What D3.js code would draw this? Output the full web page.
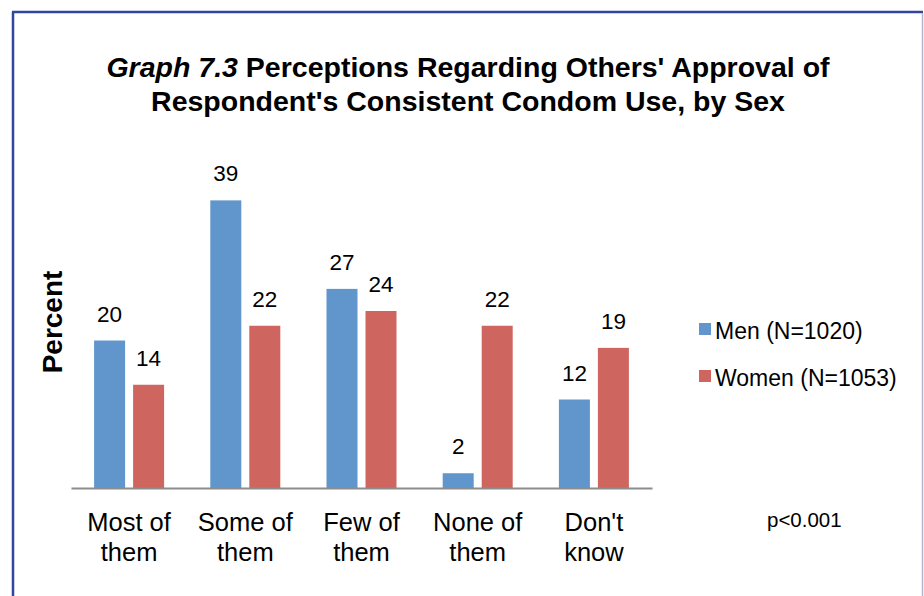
<!DOCTYPE html>
<html><head><meta charset="utf-8">
<script src="https://cdn.jsdelivr.net/npm/d3@7"></script>
<style>body{margin:0;background:#fff}svg{display:block}text{font-family:"Liberation Sans",Arial,sans-serif;fill:#000}</style>
</head><body><svg id="c" width="924" height="596"></svg>
<script>
const categories = [["Most of","them"],["Some of","them"],["Few of","them"],["None of","them"],["Don't","know"]];
const series = ["Men (N=1020)","Women (N=1053)"];
const men = [20,39,27,2,12];
const women = [14,22,24,22,19];
const colors = ["#6096CB","#CF655F"];

const svg = d3.select("#c");
// border
svg.append("line").attr("x1",13).attr("y1",12).attr("x2",13).attr("y2",600).attr("stroke","#33449c").attr("stroke-width",2.5);
svg.append("line").attr("x1",12).attr("y1",12).attr("x2",923).attr("y2",12).attr("stroke","#33449c").attr("stroke-width",2.5);
svg.append("line").attr("x1",922.5).attr("y1",13).attr("x2",922.5).attr("y2",600).attr("stroke","#b4b4cc").attr("stroke-width",1.5);

// title
const t1 = svg.append("text").attr("x",468).attr("y",77).attr("text-anchor","middle").style("font-size","28.5px").style("font-weight","bold");
t1.append("tspan").style("font-style","italic").text("Graph 7.3");
t1.append("tspan").text(" Perceptions Regarding Others' Approval of");
svg.append("text").attr("x",468).attr("y",111).attr("text-anchor","middle").style("font-size","28.5px").style("font-weight","bold").text("Respondent's Consistent Condom Use, by Sex");

const keys = categories.map(d=>d.join(" "));
const x0 = d3.scaleBand().domain(keys).range([71,652]).padding(0);
const x1 = d3.scaleBand().domain(series).range([23.1,93.1]).paddingInner(0.205).paddingOuter(0);
const y = d3.scaleLinear().domain([0,40]).range([488,193]);

const data = series.map((s,i)=>({s, vals: i===0?men:women, c: colors[i]}));
const g = svg.append("g");
data.forEach(d=>{
  d.vals.forEach((v,j)=>{
    const xx = x0(keys[j]) + x1(d.s);
    g.append("rect").attr("x",xx).attr("y",y(v)).attr("width",x1.bandwidth()).attr("height",y(0)-y(v)).attr("fill",d.c);
    g.append("text").attr("x",xx+x1.bandwidth()/2).attr("y",y(v)-19).attr("text-anchor","middle").style("font-size","22.5px").text(v);
  });
});

// x axis
const xAxis = svg.append("g").attr("transform","translate(0,488)").call(d3.axisBottom(x0).tickSize(0).tickFormat(""));
xAxis.select(".domain").attr("stroke","#8c8c8c").attr("stroke-width",2);
keys.forEach((k,j)=>{
  const cx = x0(k)+x0.bandwidth()/2;
  const tx = svg.append("text").attr("x",cx).attr("y",531).attr("text-anchor","middle").style("font-size","25.5px");
  tx.append("tspan").attr("x",cx).text(categories[j][0]);
  tx.append("tspan").attr("x",cx).attr("dy",30).text(categories[j][1]);
});

// y title
svg.append("text").attr("transform","translate(62,322) rotate(-90)").attr("text-anchor","middle").style("font-size","28px").style("font-weight","bold").text("Percent");

// legend
series.forEach((s,i)=>{
  svg.append("rect").attr("x",699).attr("y",323+i*47).attr("width",12).attr("height",12).attr("fill",colors[i]);
  svg.append("text").attr("x",715).attr("y",339+i*47).style("font-size","23px").text(s);
});

svg.append("text").attr("x",767).attr("y",527).style("font-size","20.5px").text("p<0.001");
</script></body></html>
